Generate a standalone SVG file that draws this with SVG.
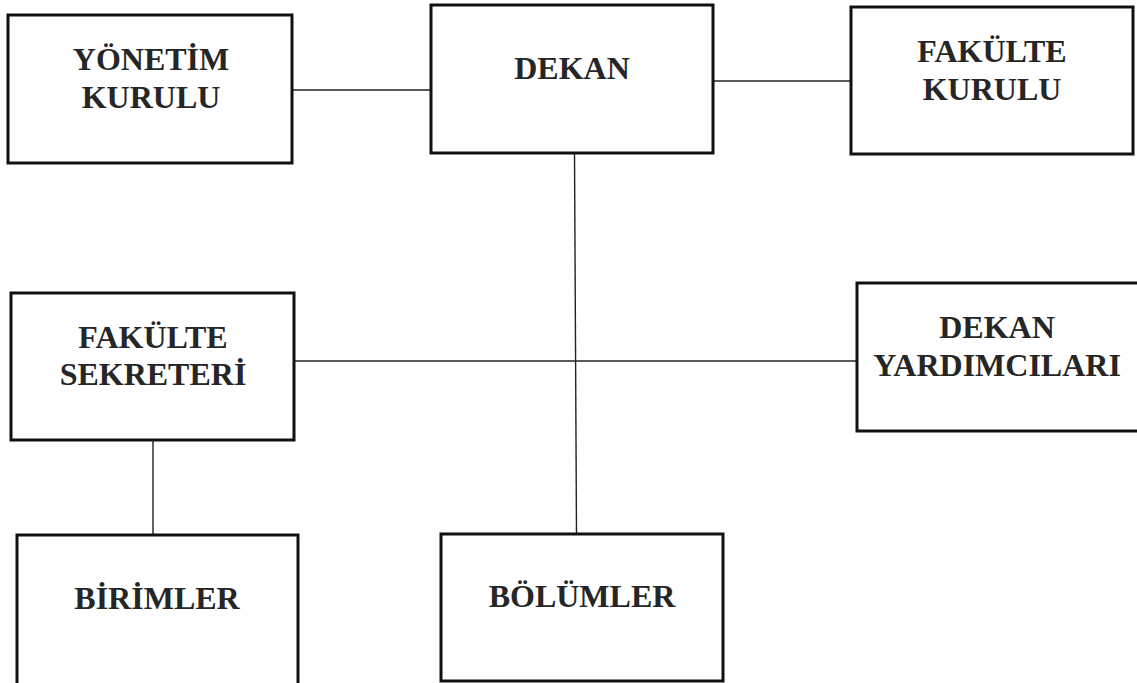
<svg xmlns="http://www.w3.org/2000/svg" width="1137" height="683" viewBox="0 0 1137 683">
<style>
.box{fill:#fff;stroke:#111;stroke-width:3}
.lbl{font-family:"Liberation Serif","Times New Roman",serif;font-weight:bold;font-size:32px;fill:#262626;text-anchor:middle}
.con{stroke:#222;stroke-width:1.4;fill:none}
</style>
<rect width="1137" height="683" fill="#fff"/>
<g id="connectors">
<line class="con" x1="292" y1="90" x2="431" y2="90"/>
<line class="con" x1="713" y1="81" x2="851" y2="81"/>
<line class="con" x1="574.5" y1="153" x2="576.5" y2="534"/>
<line class="con" x1="294" y1="361" x2="857" y2="361"/>
<line class="con" x1="153" y1="440" x2="153" y2="535"/>
</g>
<g id="yonetim-kurulu">
<rect class="box" x="8" y="15" width="284" height="148"/>
<text class="lbl" x="151" y="70">YÖNETİM</text>
<text class="lbl" x="151" y="108">KURULU</text>
</g>
<g id="dekan">
<rect class="box" x="431" y="5" width="282" height="148"/>
<text class="lbl" x="572" y="79">DEKAN</text>
</g>
<g id="fakulte-kurulu">
<rect class="box" x="851" y="7" width="282" height="147"/>
<text class="lbl" x="992" y="62">FAKÜLTE</text>
<text class="lbl" x="992" y="100">KURULU</text>
</g>
<g id="fakulte-sekreteri">
<rect class="box" x="11" y="293" width="283" height="147"/>
<text class="lbl" x="153" y="348">FAKÜLTE</text>
<text class="lbl" x="153" y="385">SEKRETERİ</text>
</g>
<g id="dekan-yardimcilari">
<rect class="box" x="857" y="283" width="284" height="148"/>
<text class="lbl" x="997" y="338">DEKAN</text>
<text class="lbl" x="997" y="376">YARDIMCILARI</text>
</g>
<g id="birimler">
<rect class="box" x="17" y="535" width="281" height="150"/>
<text class="lbl" x="157" y="609">BİRİMLER</text>
</g>
<g id="bolumler">
<rect class="box" x="441" y="534" width="282" height="147"/>
<text class="lbl" x="582" y="607">BÖLÜMLER</text>
</g>
</svg>
